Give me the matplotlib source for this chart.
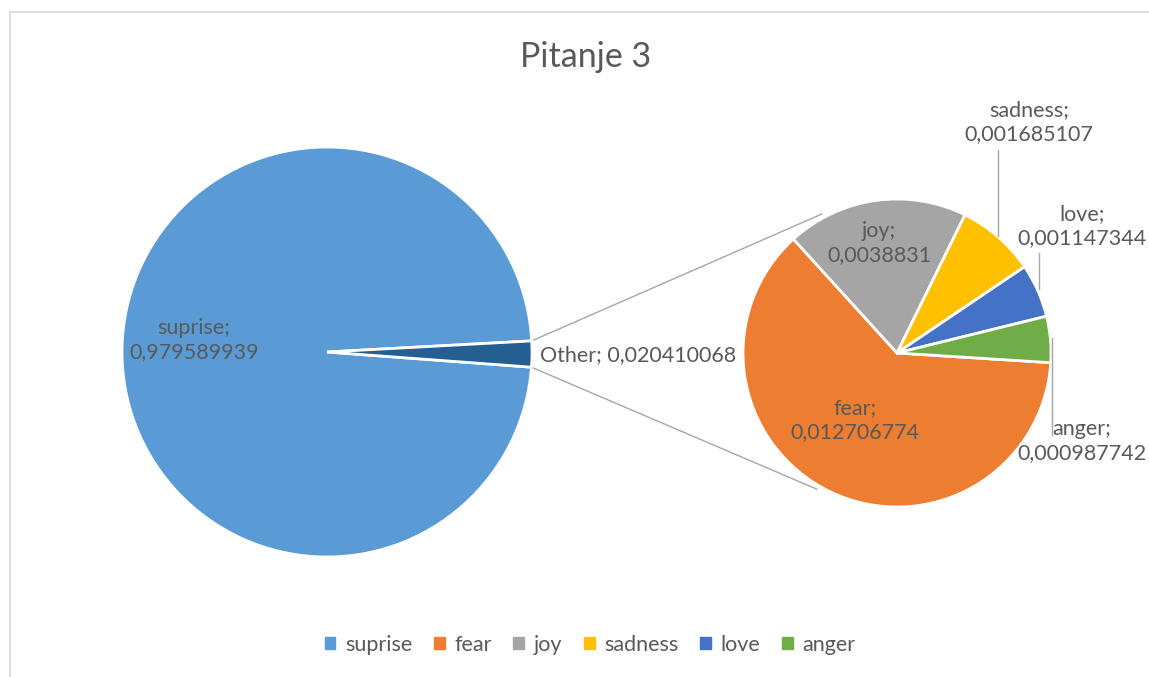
import numpy as np
import matplotlib.pyplot as plt
from matplotlib.patches import Patch, Rectangle

plt.rcParams['font.family'] = ['Lato', 'DejaVu Sans']

# --- data
main_labels = ['suprise', 'Other']
main_values = [0.979589939, 0.020410068]
sub_labels = ['fear', 'joy', 'sadness', 'love', 'anger']
sub_values = [0.012706774, 0.0038831, 0.001685107, 0.001147344, 0.000987742]

main_colors = ['#5B9BD5', '#255E91']
sub_colors = ['#ED7D31', '#A5A5A5', '#FFC000', '#4472C4', '#70AD47']
txt = '#595959'

W, H = 1149, 677
fig = plt.figure(figsize=(W / 100, H / 100), dpi=100)
ax = fig.add_axes([0, 0, 1, 1])


def Y(y):
    # image pixel row -> data y
    return H - y


c1, r1 = (327, Y(352)), 205
c2, r2 = (897, Y(353)), 154

wp = dict(edgecolor='white', linewidth=2)
w1, _ = ax.pie(main_values, colors=main_colors, center=c1, radius=r1,
               startangle=355.75, counterclock=False, wedgeprops=wp)
w2, _ = ax.pie(sub_values, colors=sub_colors, center=c2, radius=r2,
               startangle=356.4, counterclock=False, wedgeprops=wp)

ax.set_xlim(0, W)
ax.set_ylim(0, H)
ax.set_aspect('equal')
ax.axis('off')

# connector lines from the "Other" wedge to the second pie
other = w1[1]
for a1, a2 in [(other.theta2, 118.5), (other.theta1, 239.5)]:
    p1 = (c1[0] + r1 * np.cos(np.radians(a1)), c1[1] + r1 * np.sin(np.radians(a1)))
    p2 = (c2[0] + 158 * np.cos(np.radians(a2)), c2[1] + 158 * np.sin(np.radians(a2)))
    ax.plot([p1[0], p2[0]], [p1[1], p2[1]], color='#A5A5A5', lw=1.0, zorder=0)


def fmt(v):
    return str(v).replace('.', ',')


fs = 15.5
# data labels
ax.text(194, Y(340), f'{main_labels[0]};\n{fmt(main_values[0])}', ha='center', va='center',
        color=txt, fontsize=fs, linespacing=1.2)
ax.text(540, Y(355), f'{main_labels[1]}; {fmt(main_values[1])}', ha='left', va='center',
        color=txt, fontsize=fs)
sub_pos = [(855, 420), (879, 243), (1029, 122), (1082, 226), (1082, 441)]
for name, v, (x, y) in zip(sub_labels, sub_values, sub_pos):
    ax.text(x, Y(y), f'{name};\n{fmt(v)}', ha='center', va='center',
            color=txt, fontsize=fs, linespacing=1.2)

# leader lines
for x, ya, yb in [(998, 150, 236), (1039, 253, 289), (1052, 338, 435)]:
    ax.plot([x, x], [Y(ya), Y(yb)], color='#A5A5A5', lw=1.0)

ax.text(586, Y(57), 'Pitanje 3', ha='center', va='center', color=txt, fontsize=24.5)

# chart border
ax.add_patch(Rectangle((10, Y(700)), 1200, 688, fill=False, edgecolor='#D9D9D9', lw=1.2))

handles = [Patch(color=c) for c in main_colors[:1] + sub_colors]
leg = fig.legend(handles, main_labels[:1] + sub_labels, loc='center',
                 bbox_to_anchor=(590 / W, 1 - 645 / H), ncol=6, frameon=False,
                 fontsize=fs, handlelength=0.5, handleheight=0.5, handletextpad=0.45,
                 columnspacing=1.0)
for t in leg.get_texts():
    t.set_color(txt)

fig.savefig('out.png', dpi=100)
